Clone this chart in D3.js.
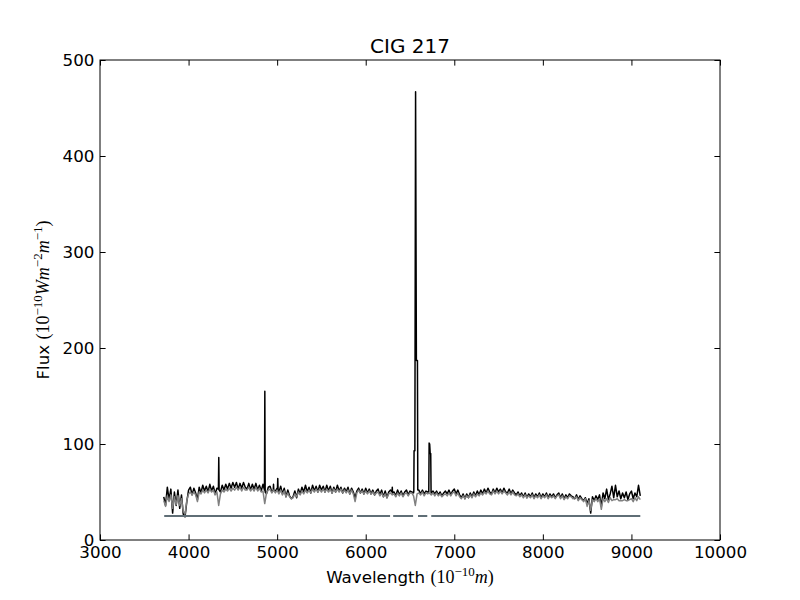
<!DOCTYPE html>
<html>
<head>
<meta charset="utf-8">
<script src="https://cdn.jsdelivr.net/npm/d3@7"></script>
<style>
  body { margin: 0; background: #fff; }
  svg { display: block; font-family: "DejaVu Sans", sans-serif; }
</style>
</head>
<body>
<svg id="chart" width="800" height="600"></svg>
<script>
// --- data ---
// evenly sampled wavelength grid (Angstrom), 3720 .. 9100
const waveStart = 3720;
const waveStep = 20;

// observed spectrum (black), one row = 10 samples = 200 A
// null = sample replaced by the emission-line points below
const observed = [
  45, 36, 55, 42, 53, 28, 50, 36, 52, 33,      // 3720
  47, 27, 24, 40, 52, 55, 47, 54, 49, 42,      // 3920
  55, 49, 57, 51, 56, 50, 58, 51, 56, 48,      // 4120
  54, null, 50, 57, 52, 58, 53, 59, 54, 60,    // 4320
  55, 60, 53, 59, 54, 60, 55, 53, 59, 52,      // 4520
  58, 53, 59, 52, 57, 51, 58, null, 48, 55,    // 4720
  56, 50, null, 51, 54, 50, 56, 48, 54, 45,    // 4920
  52, 46, 43, 45, 51, 44, 53, 48, 55, 50,      // 5120
  57, 50, 55, 49, 57, 51, 56, 50, 57, 52,      // 5320
  56, 50, 57, 51, 56, 49, 55, 50, 57, 51,      // 5520
  55, 49, 54, 50, 55, 48, 54, 50, 44, 51,      // 5720
  54, 49, 53, 48, 54, 49, 53, 48, 52, 47,      // 5920
  51, 53, 47, 52, 45, 51, 44, 50, 52, null,    // 6120
  50, 46, 52, 47, 51, 46, 50, 52, 47, 51,      // 6320
  50, 49, null, null, 52, 48, 52, 48, 51, 50,  // 6520
  null, 49, 51, 48, 51, 47, 50, 46, 49, 51,    // 6720
  48, 52, 47, 51, 53, 48, 52, 47, 44, 48,      // 6920
  43, 48, 44, 49, 45, 50, 46, 51, 47, 52,      // 7120
  48, 53, 49, 54, 50, 48, 53, 49, 54, 50,      // 7320
  53, 49, 54, 50, 49, 53, 48, 52, 49, 47,      // 7520
  50, 46, 49, 45, 49, 44, 48, 45, 49, 44,      // 7720
  48, 45, 49, 44, 48, 45, 49, 44, 48, 45,      // 7920
  48, 44, 47, 49, 44, 48, 43, 47, 44, 48,      // 8120
  46, 45, 43, 47, 42, 46, 43, 41, 44, 38,      // 8320
  43, 28, 45, 41, 46, 42, 47, 35, 49, 43,      // 8520
  53, 42, 48, 56, 44, 57, 45, 51, 43, 49,      // 8720
  44, 50, 42, 48, 51, 43, 49, 45, 57, 46       // 8920
];

// emission lines of the observed spectrum (Hg, Hb, [OIII], [OI], Ha+[NII], [SII])
const lineWave = [
  4337, 4341, 4345,
  4857, 4861, 4865,
  4956, 4959, 4962,
  5003, 5007, 5011,
  6297, 6300, 6303,
  6543, 6546, 6555, 6563, 6572, 6584, 6588,
  6712, 6716, 6722, 6728, 6734, 6738
];
const lineFlux = [
  53, 86, 52,
  52, 155, 50,
  52, 58, 52,
  52, 64, 51,
  50, 55, 49,
  51, 93, 93, 467, 187, 187, 52,
  50, 101, 100, 90, 90, 50
];

// fitted / model spectrum (grey)
const model = [
  41, 35, 46, 40, 47, 33, 45, 37, 46, 36,
  43, 30, 27, 41, 48, 50, 47, 50, 47, 40,
  50, 48, 52, 49, 52, 49, 53, 50, 52, 47,
  50, 36, 48, 52, 50, 53, 51, 54, 51, 54,
  52, 55, 52, 55, 51, 55, 52, 52, 55, 51,
  54, 51, 55, 51, 54, 50, 51, 38, 49, 52,
  53, 49, 52, 49, 52, 48, 52, 47, 51, 45,
  49, 45, 43, 44, 48, 45, 50, 47, 51, 48,
  52, 49, 52, 49, 53, 50, 53, 50, 53, 50,
  53, 50, 53, 50, 53, 49, 53, 50, 53, 50,
  53, 49, 52, 49, 52, 48, 52, 48, 40, 49,
  52, 49, 51, 48, 51, 48, 51, 48, 50, 47,
  49, 50, 46, 49, 45, 48, 44, 48, 49, 47,
  48, 45, 49, 46, 49, 45, 48, 49, 46, 49,
  49, 46, 36, 48, 49, 47, 50, 46, 49, 48,
  49, 47, 49, 46, 49, 46, 48, 45, 47, 48,
  46, 49, 46, 49, 50, 46, 49, 45, 43, 46,
  43, 46, 44, 47, 44, 48, 45, 48, 46, 49,
  47, 50, 48, 51, 48, 47, 51, 48, 51, 48,
  51, 48, 51, 49, 47, 50, 47, 50, 47, 46,
  48, 45, 47, 44, 47, 44, 46, 44, 47, 43,
  46, 44, 47, 43, 46, 44, 47, 43, 46, 44,
  46, 43, 46, 47, 43, 46, 42, 45, 43, 46,
  45, 43, 44, 45, 41, 44, 42, 40, 43, 35,
  41, 31, 42, 40, 43, 40, 43, 32, 43, 40,
  43, 39, 44, 41, 42, 42, 43, 41, 41, 41,
  42, 41, 41, 42, 43, 40, 44, 41, 45, 42
];

// masked-region bar: [start, end] wavelength pairs, drawn at a fixed level
const maskStarts = [3725, 4865, 5010, 5900, 6310, 6590, 6740];
const maskEnds   = [4840, 4940, 5855, 6275, 6535, 6695, 9100];
const maskLevel = 25;

const xTicks = [3000, 4000, 5000, 6000, 7000, 8000, 9000, 10000];
const yTicks = [0, 100, 200, 300, 400, 500];

// --- layout ---
const svg = d3.select('#chart');
const margin = { top: 60, right: 80, bottom: 60, left: 100 };
const w = 800 - margin.left - margin.right;
const h = 600 - margin.top - margin.bottom;
const tick = 5.6;
const fs = 16.7;

const x = d3.scaleLinear().domain([3000, 10000]).range([0, w]);
const y = d3.scaleLinear().domain([0, 500]).range([h, 0]);

const g = svg.append('g').attr('transform', `translate(${margin.left},${margin.top})`);

const waves = d3.range(observed.length).map((i) => waveStart + i * waveStep);

const obsPts = waves
  .map((wv, i) => [wv, observed[i]])
  .filter((d) => d[1] !== null)
  .concat(lineWave.map((wv, i) => [wv, lineFlux[i]]))
  .sort((a, b) => a[0] - b[0]);
const modelPts = waves.map((wv, i) => [wv, model[i]]);

svg.append('defs').append('clipPath').attr('id', 'plotclip')
  .append('rect').attr('width', w).attr('height', h);

const plot = g.append('g').attr('clip-path', 'url(#plotclip)');

const line = d3.line()
  .x((d) => x(d[0]))
  .y((d) => y(d[1]));

plot.append('path')
  .datum(obsPts)
  .attr('fill', 'none')
  .attr('stroke', '#000')
  .attr('stroke-width', 1.5)
  .attr('stroke-linejoin', 'round')
  .attr('d', line);

plot.append('path')
  .datum(modelPts)
  .attr('fill', 'none')
  .attr('stroke', '#808080')
  .attr('stroke-width', 1.5)
  .attr('stroke-linejoin', 'round')
  .attr('d', line);

plot.selectAll('line.mask')
  .data(maskStarts.map((s, i) => [s, maskEnds[i]]))
  .join('line')
  .attr('class', 'mask')
  .attr('x1', (d) => x(d[0]))
  .attr('x2', (d) => x(d[1]))
  .attr('y1', y(maskLevel))
  .attr('y2', y(maskLevel))
  .attr('stroke', '#5f6e76')
  .attr('stroke-width', 2);

// --- axes: ticks inward on all four sides ---
function styleAxis(sel) {
  sel.select('.domain').remove();
  sel.selectAll('.tick line').attr('stroke', '#000').attr('stroke-width', 1);
  sel.selectAll('.tick text')
    .attr('font-family', '"DejaVu Sans", sans-serif')
    .attr('font-size', fs)
    .attr('fill', '#000');
}

g.append('g')
  .attr('transform', `translate(0,${h})`)
  .call(d3.axisBottom(x).tickValues(xTicks).tickSize(-tick).tickPadding(6).tickFormat(d3.format('d')))
  .call(styleAxis);

g.append('g')
  .call(d3.axisTop(x).tickValues(xTicks).tickSize(-tick).tickFormat(''))
  .call(styleAxis);

g.append('g')
  .call(d3.axisLeft(y).tickValues(yTicks).tickSize(-tick).tickPadding(5.6).tickFormat(d3.format('d')))
  .call(styleAxis);

g.append('g')
  .attr('transform', `translate(${w},0)`)
  .call(d3.axisRight(y).tickValues(yTicks).tickSize(-tick).tickFormat(''))
  .call(styleAxis);

g.append('rect')
  .attr('width', w)
  .attr('height', h)
  .attr('fill', 'none')
  .attr('stroke', '#000')
  .attr('stroke-width', 1);

// --- text ---
svg.append('text')
  .attr('x', margin.left + w / 2)
  .attr('y', 53)
  .attr('text-anchor', 'middle')
  .attr('font-size', 20)
  .text('CIG 217');

// mathtext-ish label: parts of plain / serif / italic / superscript text
function mathLabel(sel, parts) {
  let up = false;
  parts.forEach((p) => {
    const t = sel.append('tspan').text(p.t);
    if (p.serif || p.it) t.attr('font-family', '"Liberation Serif", "DejaVu Serif", serif').attr('font-size', 18);
    if (p.it) t.attr('font-style', 'italic');
    if (p.sup && !up) { t.attr('dy', -7).attr('font-size', 13); up = true; }
    else if (p.sup) { t.attr('font-size', 13); }
    else if (up) { t.attr('dy', 7); up = false; }
  });
}

const xl = svg.append('text')
  .attr('x', margin.left + w / 2)
  .attr('y', 583)
  .attr('text-anchor', 'middle')
  .attr('font-size', fs);
mathLabel(xl, [
  { t: 'Wavelength ' },
  { t: '(10', serif: true },
  { t: '\u221210', serif: true, sup: true },
  { t: 'm', it: true },
  { t: ')', serif: true }
]);

const yl = svg.append('text')
  .attr('transform', `translate(49,${margin.top + h / 2}) rotate(-90)`)
  .attr('text-anchor', 'middle')
  .attr('font-size', fs);
mathLabel(yl, [
  { t: 'Flux ' },
  { t: '(10', serif: true },
  { t: '\u221210', serif: true, sup: true },
  { t: 'Wm', it: true },
  { t: '\u22122', serif: true, sup: true },
  { t: 'm', it: true },
  { t: '\u22121', serif: true, sup: true },
  { t: ')', serif: true }
]);
</script>
</body>
</html>
